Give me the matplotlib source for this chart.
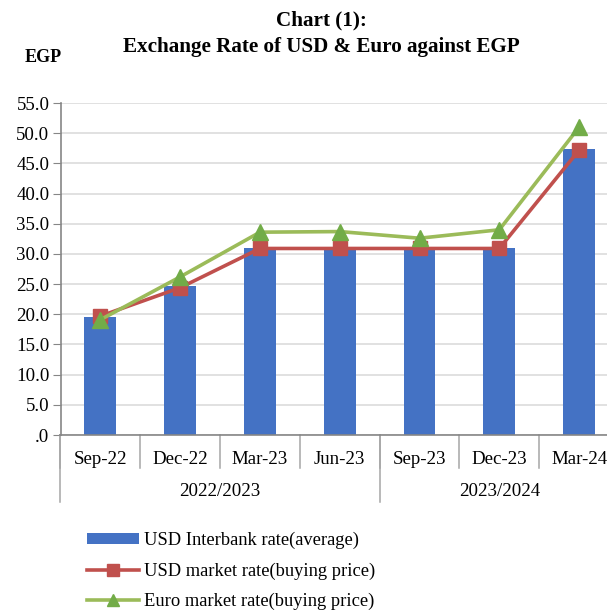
import matplotlib
matplotlib.use("Agg")
import matplotlib.pyplot as plt
import matplotlib.transforms as mtransforms
from matplotlib.ticker import FuncFormatter, MultipleLocator
from matplotlib.lines import Line2D
from matplotlib.patches import Patch

plt.rcParams['font.family'] = ['Liberation Serif', 'DejaVu Serif']

categories = ["Sep-22", "Dec-22", "Mar-23", "Jun-23", "Sep-23", "Dec-23", "Mar-24"]
groups = ["2022/2023", "2023/2024"]
group_sizes = [4, 3]
usd_interbank = [19.5, 24.7, 30.9, 30.9, 30.9, 30.9, 47.3]
usd_market = [19.7, 24.4, 30.9, 30.9, 30.9, 30.9, 47.2]
euro_market = [19.1, 26.2, 33.6, 33.7, 32.6, 34.0, 51.0]
labels = ["USD Interbank rate(average)", "USD market rate(buying price)",
          "Euro market rate(buying price)"]

W, H = 607, 610
fig = plt.figure(figsize=(W / 100, H / 100), dpi=100)
ax = fig.add_axes([60.5 / W, 1 - 435 / H, (619 - 60.5) / W, (435 - 103) / H])

x = list(range(len(categories)))
ax.bar(x, usd_interbank, width=0.4, color="#4472C4", zorder=2)
ax.plot(x, usd_market, color="#C0504D", lw=2.6, marker="s", ms=10,
        mfc="#C0504D", mec="#C0504D", zorder=3)
ax.plot(x, euro_market, color="#9BBB59", lw=2.6, marker="^", ms=11,
        mfc="#72AC48", mec="#72AC48", zorder=4)

ax.set_xlim(-0.5, len(categories) - 0.5)
ax.set_ylim(0, 55)
ax.yaxis.set_major_locator(MultipleLocator(5))
ax.yaxis.set_major_formatter(FuncFormatter(
    lambda v, p: ".0" if abs(v) < 1e-9 else f"{v:.1f}"))
ax.grid(axis="y", color="#D9D9D9", lw=1.1, zorder=0)
ax.set_axisbelow(True)
for s in ["top", "right"]:
    ax.spines[s].set_visible(False)
ax.spines["left"].set_color("#868686")
ax.spines["bottom"].set_color("#868686")
ax.spines["left"].set_linewidth(1.2)
ax.spines["bottom"].set_linewidth(1.2)
ax.tick_params(axis="y", length=6, color="#868686", labelsize=13.6, pad=2)
ax.set_xticks([])

trans = mtransforms.blended_transform_factory(ax.transData, ax.transAxes)
ax_h = 435 - 103
def ay(py):
    return -(py - 435) / ax_h

# category labels and separators
for i, c in enumerate(categories):
    ax.text(i, ay(459), c, transform=trans, ha="center", va="center", fontsize=13.6)
for b in range(len(categories) + 1):
    xb = b - 0.5
    ax.plot([xb, xb], [0, ay(468)], transform=trans, color="#A6A6A6", lw=1.1,
            clip_on=False)
# group labels and separators
start = 0
bounds = [-0.5]
for g, n in zip(groups, group_sizes):
    ax.text(start + (n - 1) / 2, ay(492), g, transform=trans, ha="center",
            va="center", fontsize=13.6)
    start += n
    bounds.append(start - 0.5)
for xb in bounds:
    ax.plot([xb, xb], [0, ay(502)], transform=trans, color="#A6A6A6", lw=1.1,
            clip_on=False)

fig.text(321 / W, 1 - 20 / H, "Chart (1):", ha="center", va="center",
         fontsize=15.2, fontweight="bold")
fig.text(321 / W, 1 - 47 / H, "Exchange Rate of USD & Euro against EGP",
         ha="center", va="center", fontsize=15.2, fontweight="bold")
fig.text(43 / W, 1 - 57 / H, "EGP", ha="center", va="center", fontsize=13,
         fontweight="bold")

handles = [
    Patch(facecolor="#4472C4", edgecolor="none"),
    Line2D([], [], color="#C0504D", lw=2.6, marker="s", ms=8,
           mfc="#C0504D", mec="#C0504D"),
    Line2D([], [], color="#9BBB59", lw=2.6, marker="^", ms=8,
           mfc="#72AC48", mec="#72AC48"),
]
fig.legend(handles, labels, loc="upper left",
           bbox_to_anchor=(87 / W, 1 - 532 / H), frameon=False,
           fontsize=13.3, handlelength=2.8, handletextpad=0.3,
           handleheight=0.55, labelspacing=0.71, borderpad=0, borderaxespad=0)

fig.savefig("out.png", dpi=100)
